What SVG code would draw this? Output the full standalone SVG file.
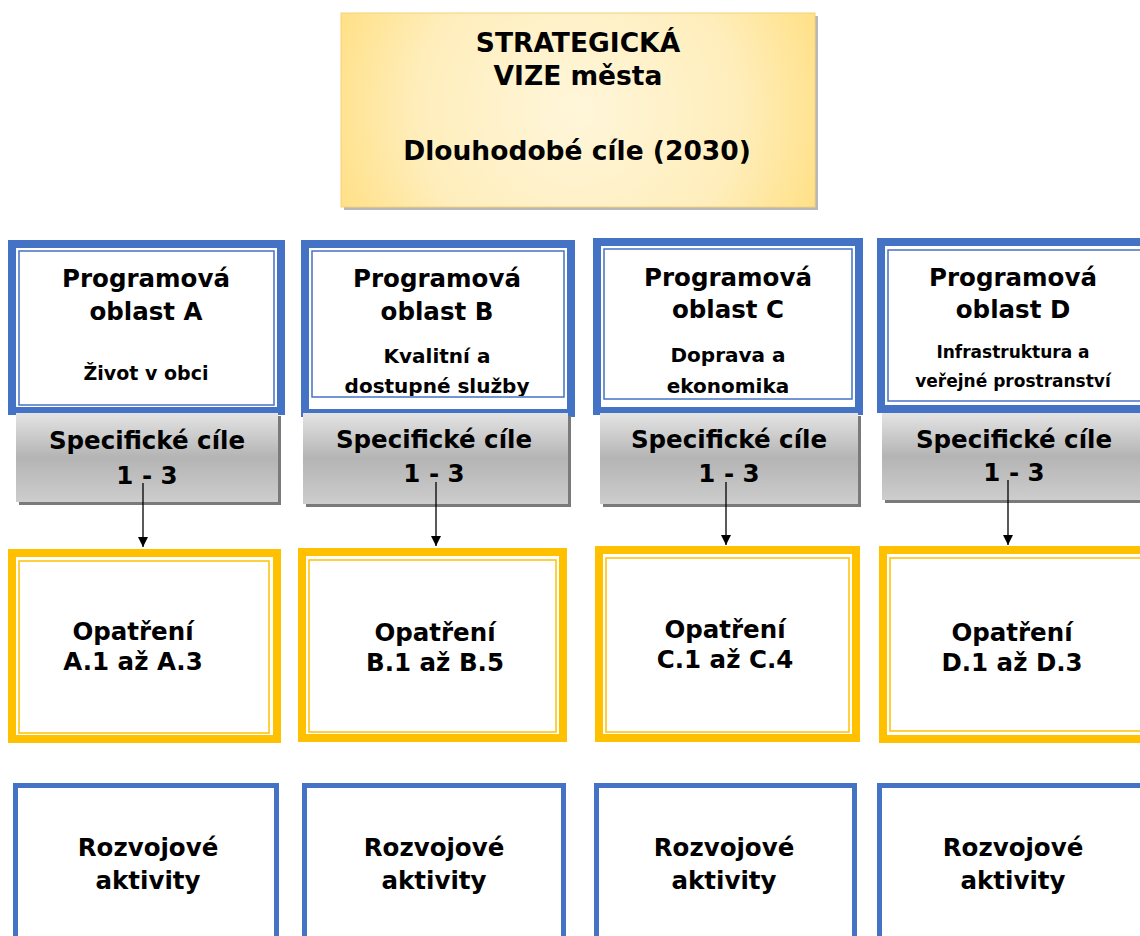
<svg xmlns="http://www.w3.org/2000/svg" width="1140" height="936" viewBox="0 0 1140 936">
<defs>
<radialGradient id="gold" cx="0.5" cy="0.5" r="0.75" gradientTransform="translate(0.5 0.5) scale(1 2.4) rotate(-20) translate(-0.5 -0.5)">
<stop offset="0" stop-color="#fff6da"/>
<stop offset="0.45" stop-color="#ffeebc"/>
<stop offset="1" stop-color="#ffd24f"/>
</radialGradient>
<linearGradient id="gray" x1="0" y1="0" x2="0" y2="1">
<stop offset="0" stop-color="#e4e4e4"/>
<stop offset="0.5" stop-color="#b4b4b4"/>
<stop offset="1" stop-color="#cdcdcd"/>
</linearGradient>
<marker id="arr" viewBox="0 0 10 10" refX="10" refY="5" markerWidth="10" markerHeight="10" markerUnits="userSpaceOnUse" orient="auto">
<path d="M0,0 L10,5 L0,10 z" fill="#000"/>
</marker>
<clipPath id="clipB"><rect x="300" y="240" width="280" height="156"/></clipPath>
</defs>
<style>
text{font-family:"DejaVu Sans","Liberation Sans",sans-serif;font-weight:bold;fill:#000;text-anchor:middle}
.t26{font-size:26.5px}
.t24{font-size:24.5px}
.t20{font-size:20px}
.t19{font-size:19px}
.t17{font-size:17px}
.bo{fill:#fff;stroke:#4472c4;stroke-width:8}
.bi{fill:none;stroke:#4472c4;stroke-width:1.5}
.yo{fill:#fff;stroke:#ffc000;stroke-width:8}
.yi{fill:none;stroke:#ffc000;stroke-width:1.5}
.gr{fill:url(#gray)}
.gs{fill:#7a7a7a}
.rb{fill:#fff;stroke:#4472c4;stroke-width:5}
.ln{stroke:#000;stroke-width:1.3;fill:none}
</style>
<rect width="1140" height="936" fill="#fff"/>

<g id="vize">
<rect x="344" y="16" width="474" height="194" fill="#b8b8b8"/>
<rect x="341" y="13" width="474" height="194" fill="url(#gold)" stroke="#f5d27a" stroke-width="1"/>
<text class="t26" x="578" y="52">STRATEGICKÁ</text>
<text class="t26" x="578" y="85">VIZE města</text>
<text class="t26" x="577" y="160">Dlouhodobé cíle (2030)</text>
</g>

<g id="oblast-a">
<rect class="bo" x="12" y="244" width="269" height="167"/>
<rect class="bi" x="19" y="251" width="255" height="154"/>
<text class="t24" x="146" y="287">Programová</text>
<text class="t24" x="146" y="320">oblast A</text>
<text class="t19" x="146" y="380">Život v obci</text>
</g>
<g id="oblast-b">
<rect class="bo" x="305" y="244" width="266" height="169"/>
<rect class="bi" x="312" y="251" width="252" height="146"/>
<text class="t24" x="437" y="287">Programová</text>
<text class="t24" x="437" y="320">oblast B</text>
<g clip-path="url(#clipB)">
<text class="t20" x="437" y="363">Kvalitní a</text>
<text class="t20" x="437" y="393">dostupné služby</text>
</g>
</g>
<g id="oblast-c">
<rect class="bo" x="597" y="242" width="262" height="169"/>
<rect class="bi" x="604" y="249" width="248" height="150"/>
<text class="t24" x="728" y="286">Programová</text>
<text class="t24" x="728" y="318">oblast C</text>
<text class="t20" x="728" y="362">Doprava a</text>
<text class="t20" x="728" y="393">ekonomika</text>
</g>
<g id="oblast-d">
<rect class="bo" x="881" y="242" width="270" height="167"/>
<rect class="bi" x="888" y="250" width="260" height="151"/>
<text class="t24" x="1013" y="286">Programová</text>
<text class="t24" x="1013" y="318">oblast D</text>
<text class="t17" x="1013" y="358">Infrastruktura a</text>
<text class="t17" x="1013" y="387">veřejné prostranství</text>
</g>

<g id="cile-a">
<rect class="gs" x="19" y="416" width="262" height="89"/>
<rect class="gr" x="16" y="413" width="262" height="89"/>
<text class="t24" x="147" y="449">Specifické cíle</text>
<text class="t24" x="147" y="484">1 - 3</text>
</g>
<g id="cile-b">
<rect class="gs" x="306" y="416" width="265" height="91"/>
<rect class="gr" x="303" y="413" width="265" height="91"/>
<text class="t24" x="434" y="448">Specifické cíle</text>
<text class="t24" x="434" y="482">1 - 3</text>
</g>
<g id="cile-c">
<rect class="gs" x="603" y="416" width="258" height="91"/>
<rect class="gr" x="600" y="413" width="258" height="91"/>
<text class="t24" x="729" y="448">Specifické cíle</text>
<text class="t24" x="729" y="482">1 - 3</text>
</g>
<g id="cile-d">
<rect class="gs" x="885" y="416" width="270" height="87"/>
<rect class="gr" x="882" y="413" width="270" height="87"/>
<text class="t24" x="1014" y="448">Specifické cíle</text>
<text class="t24" x="1014" y="481">1 - 3</text>
</g>

<g id="opatreni-a">
<rect class="yo" x="12" y="553" width="265" height="186"/>
<rect class="yi" x="19" y="561" width="250" height="172"/>
<text class="t24" x="133" y="640">Opatření</text>
<text class="t24" x="133" y="670">A.1 až A.3</text>
</g>
<g id="opatreni-b">
<rect class="yo" x="302" y="552" width="261" height="186"/>
<rect class="yi" x="309" y="560" width="247" height="172"/>
<text class="t24" x="435" y="641">Opatření</text>
<text class="t24" x="435" y="671">B.1 až B.5</text>
</g>
<g id="opatreni-c">
<rect class="yo" x="599" y="550" width="257" height="188"/>
<rect class="yi" x="606" y="558" width="243" height="174"/>
<text class="t24" x="725" y="638">Opatření</text>
<text class="t24" x="725" y="668">C.1 až C.4</text>
</g>
<g id="opatreni-d">
<rect class="yo" x="883" y="550" width="270" height="189"/>
<rect class="yi" x="890" y="558" width="260" height="173"/>
<text class="t24" x="1012" y="641">Opatření</text>
<text class="t24" x="1012" y="671">D.1 až D.3</text>
</g>

<g id="aktivity-a">
<rect class="rb" x="15.5" y="785.5" width="261" height="160"/>
<text class="t24" x="148" y="856">Rozvojové</text>
<text class="t24" x="148" y="889">aktivity</text>
</g>
<g id="aktivity-b">
<rect class="rb" x="304.5" y="785.5" width="259" height="160"/>
<text class="t24" x="434" y="856">Rozvojové</text>
<text class="t24" x="434" y="889">aktivity</text>
</g>
<g id="aktivity-c">
<rect class="rb" x="596.5" y="785.5" width="258" height="160"/>
<text class="t24" x="724" y="856">Rozvojové</text>
<text class="t24" x="724" y="889">aktivity</text>
</g>
<g id="aktivity-d">
<rect class="rb" x="879.5" y="785.5" width="270" height="160"/>
<text class="t24" x="1013" y="856">Rozvojové</text>
<text class="t24" x="1013" y="889">aktivity</text>
</g>

<g id="connectors">
<line class="ln" x1="143" y1="483" x2="143" y2="547" marker-end="url(#arr)"/>
<line class="ln" x1="436" y1="482" x2="436" y2="546" marker-end="url(#arr)"/>
<line class="ln" x1="726" y1="482" x2="726" y2="545" marker-end="url(#arr)"/>
<line class="ln" x1="1008" y1="480" x2="1008" y2="545" marker-end="url(#arr)"/>
</g>
</svg>
